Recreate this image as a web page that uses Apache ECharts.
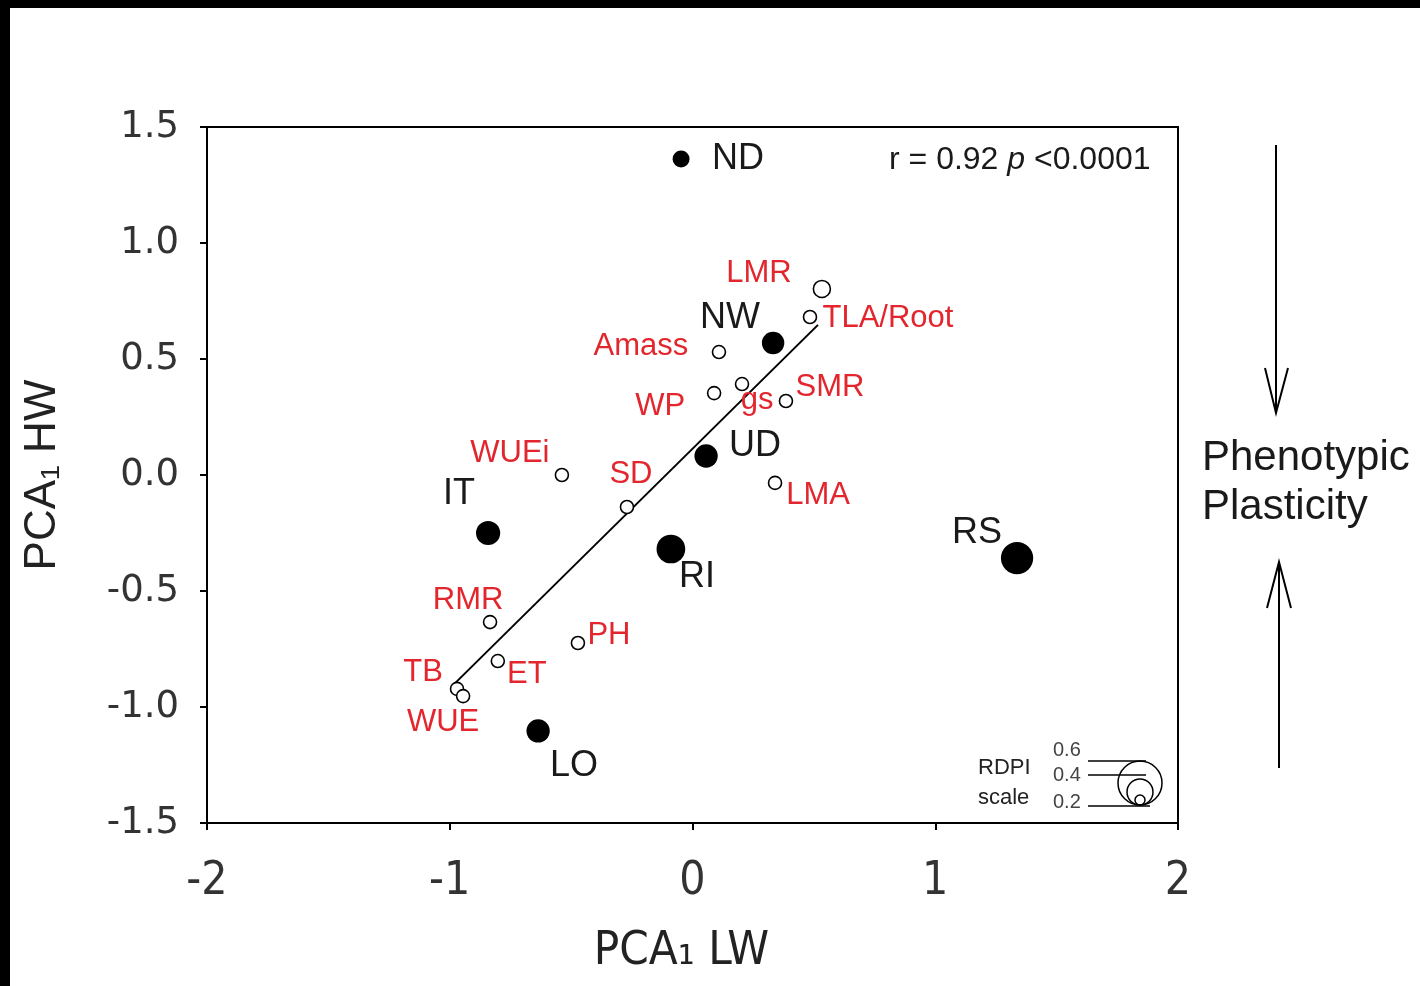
<!DOCTYPE html>
<html>
<head>
<meta charset="utf-8">
<script src="https://cdn.jsdelivr.net/npm/echarts@6/dist/echarts.min.js"></script>
<style>
  html, body { margin: 0; padding: 0; background: #fff; }
  #chart { width: 1420px; height: 986px; }
</style>
</head>
<body>
<div id="chart"></div>
<script>
// Study sites: PCA1 scores of low-water (LW) and high-water (HW) treatments, with RDPI
const siteNames = ['ND', 'NW', 'UD', 'IT', 'RI', 'RS', 'LO'];
const siteLW    = [-0.047, 0.332, 0.056, -0.842, -0.089, 1.337, -0.636];
const siteHW    = [1.362, 0.569, 0.082, -0.250, -0.319, -0.358, -1.103];
const siteRDPI  = [0.30, 0.36, 0.37, 0.38, 0.43, 0.47, 0.37];

// Trait loadings
const traitNames = ['LMR', 'TLA/Root', 'Amass', 'WP', 'gs', 'SMR', 'WUEi', 'SD', 'LMA', 'RMR', 'PH', 'ET', 'TB', 'WUE'];
const traitLW    = [0.533, 0.484, 0.109, 0.089, 0.204, 0.385, -0.538, -0.270, 0.340, -0.834, -0.472, -0.802, -0.970, -0.945];
const traitHW    = [0.802, 0.681, 0.530, 0.353, 0.392, 0.319, 0.000, -0.138, -0.034, -0.634, -0.724, -0.802, -0.922, -0.953];

// Fitted regression segment
const fitLW = [-0.978, 0.517];
const fitHW = [-0.897, 0.647];

// RDPI bubble scale
const rdpiScale = [0.6, 0.4, 0.2];

// Label placement (offset of label centre from marker centre, px)
const siteLabelOffset = {
  ND: [57, 0], NW: [-43, -25], UD: [49, -10], IT: [-29, -39],
  RI: [26, 28], RS: [-40, -25], LO: [36, 35]
};
const traitLabelOffset = {
  'LMR': [-63, -15], 'TLA/Root': [78, 1], 'Amass': [-78, -6], 'WP': [-54, 13],
  'gs': [15, 16], 'SMR': [44, -14], 'WUEi': [-52, -22], 'SD': [4, -33],
  'LMA': [43, 13], 'RMR': [-22, -22], 'PH': [31, -8], 'ET': [29, 13],
  'TB': [-34, -16], 'WUE': [-20, 26]
};
const traitSize = { 'LMR': 17 };

const RED = '#e3262d';
const rdpiToDiameter = r => 90 * r - 10;

const chart = echarts.init(document.getElementById('chart'), null, { renderer: 'canvas' });

const siteData = siteNames.map((n, i) => ({
  name: n,
  value: [siteLW[i], siteHW[i], siteRDPI[i]],
  label: { offset: siteLabelOffset[n] }
}));
const traitData = traitNames.map((n, i) => ({
  name: n,
  value: [traitLW[i], traitHW[i]],
  symbolSize: traitSize[n] || 13,
  label: { offset: traitLabelOffset[n] }
}));

// Bubble-scale legend geometry
const legCx = 1140, legBottom = 805;
const legendCircles = rdpiScale.map(r => {
  const rad = Math.max(rdpiToDiameter(r), 10) / 2;
  return {
    type: 'circle',
    shape: { cx: legCx, cy: legBottom - rad, r: rad },
    style: { fill: 'none', stroke: '#000', lineWidth: 1.5 },
    z: 100
  };
});
const legendNumY = [750, 775, 802];
const legendLineY = [761, 775, 806];
const legendNums = rdpiScale.map((r, i) => ({
  type: 'text', left: 1053, top: legendNumY[i] - 10,
  style: { text: r.toFixed(1), font: '20px "Liberation Sans", Arial, sans-serif', fill: '#444' },
  z: 100
}));
const legendLines = rdpiScale.map((r, i) => ({
  type: 'line',
  shape: { x1: 1088, y1: legendLineY[i], x2: legCx + (i === 2 ? 10 : 6), y2: legendLineY[i] },
  style: { stroke: '#000', lineWidth: 1.5 },
  z: 100
}));

const option = {
  backgroundColor: '#fff',
  animation: false,
  grid: {
    left: 207, top: 127, width: 971, height: 696,
    show: true, borderColor: '#000', borderWidth: 2, backgroundColor: 'transparent'
  },
  xAxis: {
    type: 'value', min: -2, max: 2, interval: 1,
    name: 'PCA\u2081 LW', nameLocation: 'middle', nameGap: 105,
    nameTextStyle: { fontFamily: '"Liberation Sans Narrow", "DejaVu Sans Condensed", "Liberation Sans", Arial, sans-serif', fontSize: 47, color: '#222', padding: [0, 22, 0, 0] },
    axisLine: { onZero: false, lineStyle: { color: '#000', width: 2 } },
    axisTick: { inside: false, length: 7, lineStyle: { color: '#000', width: 2 } },
    axisLabel: { margin: 36, fontFamily: '"Liberation Sans Narrow", "DejaVu Sans Condensed", "Liberation Sans", Arial, sans-serif', fontSize: 46, color: '#333' },
    splitLine: { show: false }
  },
  yAxis: {
    type: 'value', min: -1.5, max: 1.5, interval: 0.5,
    name: 'PCA\u2081 HW', nameLocation: 'middle', nameGap: 142, nameRotate: 90,
    nameTextStyle: { fontFamily: '"Liberation Sans", Arial, sans-serif', fontSize: 44, color: '#222' },
    axisLine: { onZero: false, lineStyle: { color: '#000', width: 2 } },
    axisTick: { inside: false, length: 7, lineStyle: { color: '#000', width: 2 } },
    axisLabel: {
      margin: 28, fontFamily: '"DejaVu Sans", sans-serif', fontSize: 37, color: '#333',
      formatter: v => (Math.abs(v) < 1e-9 ? 0 : v).toFixed(1)
    },
    splitLine: { show: false }
  },
  series: [
    {
      name: 'fit', type: 'line',
      data: fitLW.map((x, i) => [x, fitHW[i]]),
      showSymbol: false, symbol: 'none',
      lineStyle: { color: '#000', width: 2 },
      z: 2, silent: true
    },
    {
      name: 'traits', type: 'scatter',
      data: traitData,
      symbol: 'circle',
      itemStyle: { color: '#fff', borderColor: '#000', borderWidth: 1.6, opacity: 1 },
      label: {
        show: true, position: 'inside', formatter: '{b}',
        fontFamily: '"Liberation Sans", Arial, sans-serif', fontSize: 31, color: RED,
        align: 'center', verticalAlign: 'middle', opacity: 1
      },
      z: 3
    },
    {
      name: 'sites', type: 'scatter',
      data: siteData,
      symbol: 'circle',
      symbolSize: v => rdpiToDiameter(v[2]),
      itemStyle: { color: '#000', opacity: 1 },
      label: {
        show: true, position: 'inside', formatter: '{b}',
        fontFamily: '"Liberation Sans", Arial, sans-serif', fontSize: 36, color: '#1a1a1a',
        align: 'center', verticalAlign: 'middle', opacity: 1
      },
      z: 4
    }
  ],
  graphic: [
    // frame edges of the page
    { type: 'rect', shape: { x: 0, y: 0, width: 1420, height: 8 }, style: { fill: '#000' }, z: 200 },
    { type: 'rect', shape: { x: 0, y: 0, width: 10, height: 986 }, style: { fill: '#000' }, z: 200 },
    // correlation statistics
    {
      type: 'text', left: 889, top: 144,
      style: {
        text: '{n|r = 0.92 }{i|p}{n| <0.0001}',
        rich: {
          n: { fontFamily: '"Liberation Sans", Arial, sans-serif', fontSize: 32, fill: '#1a1a1a' },
          i: { fontFamily: '"Liberation Sans", Arial, sans-serif', fontSize: 32, fontStyle: 'italic', fill: '#1a1a1a' }
        }
      },
      z: 100
    },
    // RDPI scale
    {
      type: 'text', left: 978, top: 757,
      style: { text: 'RDPI', font: '22px "Liberation Sans", Arial, sans-serif', fill: '#222' }, z: 100
    },
    {
      type: 'text', left: 978, top: 787,
      style: { text: 'scale', font: '22px "Liberation Sans", Arial, sans-serif', fill: '#222' }, z: 100
    },
    ...legendNums,
    ...legendLines,
    ...legendCircles,
    // phenotypic plasticity annotation with converging arrows
    { type: 'line', shape: { x1: 1276, y1: 145, x2: 1276, y2: 413 }, style: { stroke: '#000', lineWidth: 2 }, z: 100 },
    { type: 'polyline', shape: { points: [[1265, 368], [1276, 413], [1288, 368]] }, style: { stroke: '#000', lineWidth: 2, fill: 'none' }, z: 100 },
    { type: 'line', shape: { x1: 1279, y1: 562, x2: 1279, y2: 768 }, style: { stroke: '#000', lineWidth: 2 }, z: 100 },
    { type: 'polyline', shape: { points: [[1267, 608], [1279, 562], [1291, 608]] }, style: { stroke: '#000', lineWidth: 2, fill: 'none' }, z: 100 },
    {
      type: 'text', left: 1202, top: 434,
      style: { text: 'Phenotypic\nPlasticity', font: '42px "Liberation Sans", Arial, sans-serif', lineHeight: 49, fill: '#1a1a1a' },
      z: 100
    }
  ]
};

chart.setOption(option);
</script>
</body>
</html>
